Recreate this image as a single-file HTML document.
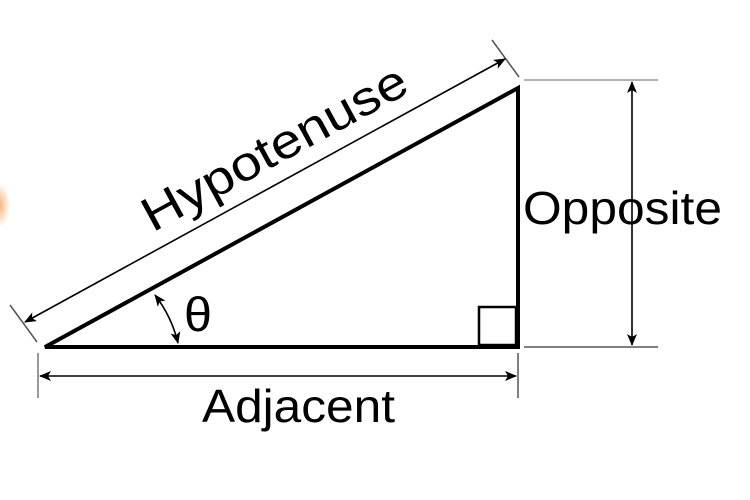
<!DOCTYPE html>
<html><head><style>body{margin:0;background:#fff}svg{display:block}</style></head><body>
<svg width="750" height="500" viewBox="0 0 750 500" xmlns="http://www.w3.org/2000/svg">
<defs>
<marker id="a" viewBox="0 0 12 10" refX="11" refY="5" markerWidth="12" markerHeight="10" markerUnits="userSpaceOnUse" orient="auto-start-reverse"><path d="M0,0 L12,5 L0,10 L3,5 Z" fill="#000"/></marker>
<radialGradient id="g"><stop offset="0" stop-color="#f6a25a" stop-opacity="0.8"/><stop offset="1" stop-color="#f6a25a" stop-opacity="0"/></radialGradient>
</defs>
<ellipse cx="0" cy="205" rx="10" ry="22" fill="url(#g)"/>
<g stroke="#999" stroke-width="1.5">
<line x1="524" y1="80" x2="658" y2="80"/>
<line x1="524" y1="347" x2="658" y2="347" stroke="#555"/>
<line x1="38" y1="353" x2="38" y2="398" stroke="#777"/>
<line x1="518" y1="353" x2="518" y2="398" stroke="#555"/>
<line x1="10" y1="305" x2="37" y2="342" stroke="#555"/>
<line x1="492" y1="40" x2="519" y2="77" stroke="#555"/>
</g>
<g stroke="#000" stroke-width="1.6" fill="none">
<line x1="632" y1="82" x2="632" y2="345" marker-start="url(#a)" marker-end="url(#a)"/>
<line x1="40" y1="376" x2="516" y2="376" marker-start="url(#a)" marker-end="url(#a)"/>
<line x1="25" y1="322" x2="505" y2="59" marker-start="url(#a)" marker-end="url(#a)"/>
<path d="M155,295 A128,128 0 0 1 178,343" marker-start="url(#a)" marker-end="url(#a)"/>
</g>
<polygon points="45,347 518,88 518,347" fill="none" stroke="#000" stroke-width="4" stroke-linejoin="miter"/>
<rect x="479" y="307" width="37" height="38" fill="none" stroke="#000" stroke-width="2.5"/>
<g font-family="Liberation Sans, sans-serif" fill="#000">
<text x="128" y="164" font-size="48" textLength="295" lengthAdjust="spacingAndGlyphs" transform="rotate(-28.6 275 150)">Hypotenuse</text>
<text x="523" y="224" font-size="46" textLength="199" lengthAdjust="spacingAndGlyphs">Opposite</text>
<text x="202" y="422" font-size="46" textLength="193" lengthAdjust="spacingAndGlyphs">Adjacent</text>
<text x="184" y="331" font-size="48" textLength="28" lengthAdjust="spacingAndGlyphs">θ</text>
</g>
</svg>
</body></html>
